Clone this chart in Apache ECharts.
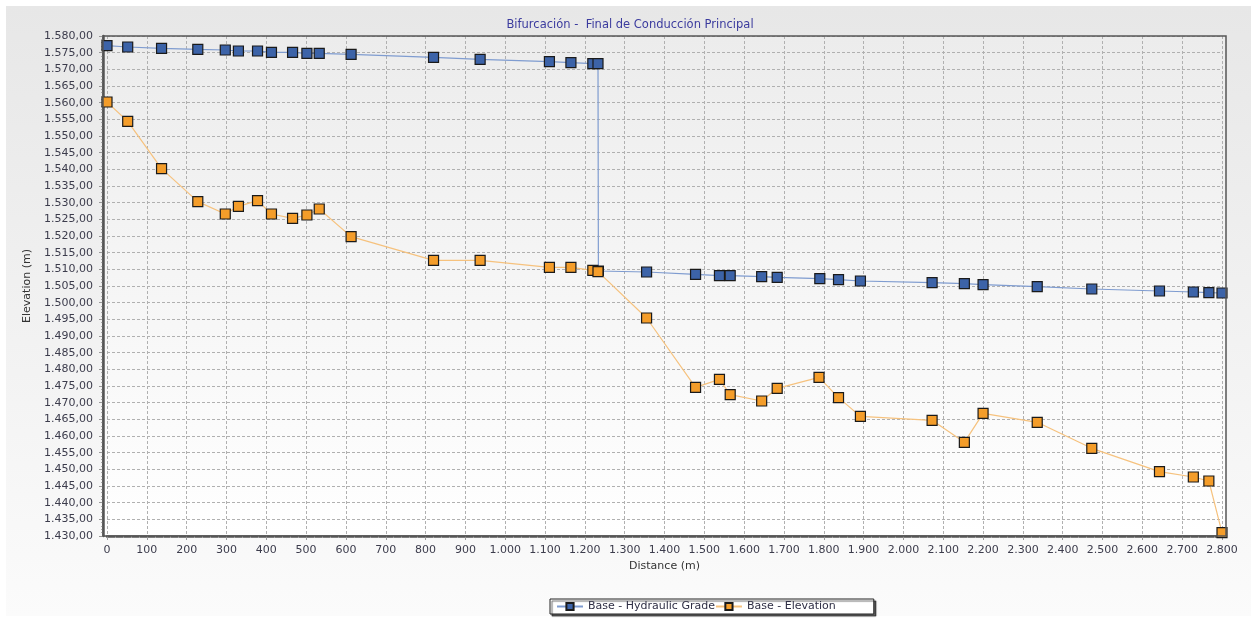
<!DOCTYPE html>
<html>
<head>
<meta charset="utf-8">
<script src="https://cdn.jsdelivr.net/npm/echarts@6/dist/echarts.min.js"></script>
<style>
  html, body { margin: 0; padding: 0; background: #fff; }
  #chart { width: 1251px; height: 618px; }
</style>
</head>
<body>
<div id="chart"></div>
<script>
// Hydraulic grade line (distance m, elevation m)
const gradeDist = [0, 52, 137, 228, 297, 330, 378, 413, 466, 502, 533, 613, 820, 937, 1111, 1165, 1220, 1233,
  1234, 1355, 1478, 1538, 1565, 1644, 1683, 1790, 1837, 1892, 2072, 2153, 2200, 2336, 2473, 2643, 2728, 2767, 2800];
const gradeElev = [1577.1, 1576.7, 1576.3, 1576.0, 1575.8, 1575.5, 1575.5, 1575.1, 1575.1, 1574.8, 1574.8, 1574.5,
  1573.6, 1573.0, 1572.3, 1572.0, 1571.7, 1571.7,
  1509.5, 1509.2, 1508.5, 1508.1, 1508.1, 1507.8, 1507.6, 1507.2, 1506.9, 1506.5, 1506.0, 1505.7, 1505.4,
  1504.8, 1504.1, 1503.5, 1503.2, 1503.0, 1502.9];

// Ground elevation
const elevDist = [0, 52, 137, 228, 297, 330, 378, 413, 466, 502, 533, 613, 820, 937, 1111, 1165, 1220, 1233,
  1355, 1478, 1538, 1565, 1644, 1683, 1788, 1837, 1892, 2072, 2153, 2200, 2336, 2473, 2643, 2728, 2767, 2800];
const elevElev = [1560.2, 1554.4, 1540.2, 1530.3, 1526.6, 1528.9, 1530.6, 1526.6, 1525.3, 1526.3, 1528.1, 1519.8,
  1512.7, 1512.7, 1510.6, 1510.6, 1509.7, 1509.3, 1495.4, 1474.6, 1477.0, 1472.4, 1470.5, 1474.3, 1477.6,
  1471.5, 1465.9, 1464.7, 1458.1, 1466.8, 1464.1, 1456.3, 1449.3, 1447.7, 1446.5, 1431.0];

const seriesNames = ['Base - Hydraulic Grade', 'Base - Elevation'];

const fontFamily = '"DejaVu Sans", Verdana, sans-serif';

function fmtNum(v, dec) {
  const parts = v.toFixed(dec).split('.');
  const int = parts[0].replace(/\B(?=(\d{3})+(?!\d))/g, '.');
  return dec ? int + ',' + parts[1] : int;
}

const chart = echarts.init(document.getElementById('chart'));

const option = {
  animation: false,
  backgroundColor: '#ffffff',
  graphic: [
    {
      type: 'rect',
      z: -10,
      shape: { x: 6, y: 6, width: 1245, height: 610 },
      style: {
        fill: new echarts.graphic.LinearGradient(0, 0, 0, 1, [
          { offset: 0, color: '#e7e7e7' },
          { offset: 1, color: '#fbfbfb' }
        ])
      }
    },
    {
      type: 'rect',
      z: -9,
      shape: { x: 103, y: 36, width: 1123, height: 500 },
      style: {
        fill: new echarts.graphic.LinearGradient(0, 0, 0, 1, [
          { offset: 0, color: '#ececec' },
          { offset: 1, color: '#ffffff' }
        ])
      }
    },
    {
      type: 'rect',
      z: 10,
      shape: { x: 103, y: 36, width: 1123, height: 500 },
      style: { fill: 'none', stroke: '#555', lineWidth: 1.5 }
    }
  ],
  title: {
    text: 'Bifurcación -  Final de Conducción Principal',
    left: 625,
    textAlign: 'center',
    top: 14,
    textStyle: { fontFamily: fontFamily, fontSize: 11.5, fontWeight: 'normal', color: '#3b3b9e' }
  },
  legend: {
    data: seriesNames,
    left: 550,
    top: 599,
    padding: [2, 38, 2, 6],
    itemGap: 0,
    itemWidth: 26,
    itemHeight: 9,
    backgroundColor: '#ffffff',
    borderColor: '#222',
    borderWidth: 1,
    borderRadius: 0,
    shadowColor: 'rgba(0,0,0,0.6)',
    shadowOffsetX: 2,
    shadowOffsetY: 2,
    shadowBlur: 1,
    textStyle: { fontFamily: fontFamily, fontSize: 11, color: '#2e2e44' }
  },
  grid: {
    left: 107,
    right: 29,
    top: 36,
    bottom: 82
  },
  xAxis: {
    type: 'value',
    min: 0,
    max: 2800,
    interval: 100,
    name: 'Distance (m)',
    nameLocation: 'middle',
    nameGap: 24,
    nameTextStyle: { fontFamily: fontFamily, fontSize: 11, color: '#333' },
    axisLine: { show: true, onZero: false, lineStyle: { color: '#555', width: 2.5 } },
    axisTick: { show: true, length: 4, lineStyle: { color: '#999' } },
    minorTick: { show: true, splitNumber: 5, length: 2, lineStyle: { color: '#aaa' } },
    axisLabel: {
      fontFamily: fontFamily, fontSize: 11, color: '#3c3c4c', margin: 9,
      formatter: v => fmtNum(v, 0)
    },
    splitLine: { show: true, lineStyle: { color: '#b0b0b0', type: [3, 2], width: 1 } }
  },
  yAxis: {
    type: 'value',
    min: 1430,
    max: 1580,
    interval: 5,
    offset: 4,
    name: 'Elevation (m)',
    nameLocation: 'middle',
    nameGap: 64,
    nameTextStyle: { fontFamily: fontFamily, fontSize: 11, color: '#333' },
    axisLine: { show: true, onZero: false, lineStyle: { color: '#555', width: 2.5 } },
    axisTick: { show: true, length: 4, lineStyle: { color: '#999' } },
    minorTick: { show: true, splitNumber: 5, length: 2, lineStyle: { color: '#aaa' } },
    axisLabel: {
      fontFamily: fontFamily, fontSize: 11, color: '#3c3c4c', margin: 10,
      formatter: v => fmtNum(v, 2)
    },
    splitLine: { show: true, lineStyle: { color: '#b0b0b0', type: [3, 2], width: 1 } }
  },
  series: [
    {
      name: seriesNames[0],
      type: 'line',
      data: gradeDist.map((d, i) => [d, gradeElev[i]]),
      symbol: 'rect',
      symbolSize: 10,
      lineStyle: { color: '#7f9cd0', width: 1.2 },
      itemStyle: { color: '#3c63a8', borderColor: '#1a1a1a', borderWidth: 1.2 },
      z: 3
    },
    {
      name: seriesNames[1],
      type: 'line',
      data: elevDist.map((d, i) => [d, elevElev[i]]),
      symbol: 'rect',
      symbolSize: 10,
      lineStyle: { color: '#f6c27e', width: 1.2 },
      itemStyle: { color: '#f49d2a', borderColor: '#1a1a1a', borderWidth: 1.2 },
      z: 4
    }
  ]
};

chart.setOption(option);
</script>
</body>
</html>
